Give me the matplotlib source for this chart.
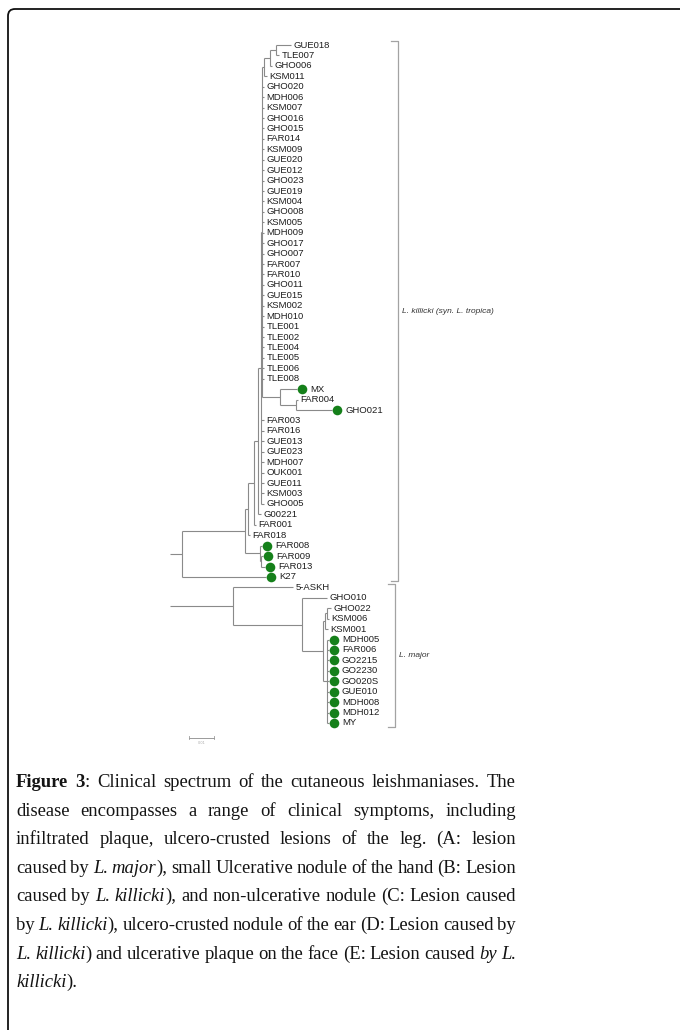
import matplotlib
matplotlib.use("Agg")
import matplotlib.pyplot as plt
from matplotlib.patches import FancyBboxPatch

# leaves hanging off the long L. killicki comb (tip length 0.0008)
comb_tips = ["GHO020", "MDH006", "KSM007", "GHO016", "GHO015", "FAR014", "KSM009",
             "GUE020", "GUE012", "GHO023", "GUE019", "KSM004", "GHO008", "KSM005",
             "MDH009", "GHO017", "GHO007", "FAR007", "FAR010", "GHO011", "GUE015",
             "KSM002", "MDH010", "TLE001", "TLE002", "TLE004", "TLE005", "TLE006",
             "TLE008"]
# second comb (tip length 0.0012)
comb2_tips = ["FAR003", "FAR016", "GUE013", "GUE023", "MDH007", "OUK001", "GUE011",
              "KSM003", "GHO005"]
# L. major polytomy (tip length 0.0008)
major_tips = ["MDH005", "FAR006", "GO2215", "GO2230", "GO020S", "GUE010", "MDH008",
              "MDH012", "MY"]
# samples marked with a green dot
marked = ["MX", "GHO021", "FAR008", "FAR009", "FAR013", "K27"] + major_tips

tree_nwk = (
    "(((((((((((GUE018:0.006,TLE007:0.0012):0.0024,GHO006:0.0008):0.0024,"
    "KSM011:0.0012):0.0008,{A},(MX:0.0068,(FAR004:0.0008,GHO021:0.0144):0.0064)"
    ":0.0072):0.0004,{B}):0.0012,G00221:0.0012):0.0016,FAR001:0.0008):0.0024,"
    "FAR018:0.0008):0.0012,(FAR008:0.0008,(FAR009:0.0008,FAR013:0.0016):0.0004)"
    ":0.006):0.0252,K27:0.0336):0.0048,"
    "(5-ASKH:0.024,(GHO010:0.01,(((GHO022:0.0016,KSM006:0.0008):0.0008,"
    "KSM001:0.0012):0.0008,({C}):0.0016):0.0084):0.0276):0.0252);"
).format(A=",".join(n + ":0.0008" for n in comb_tips),
         B=",".join(n + ":0.0012" for n in comb2_tips),
         C=",".join(n + ":0.0008" for n in major_tips))

groups = [("L. killicki (syn. L. tropica)", "GUE018", "K27", 0.0912),
          ("L. major", "5-ASKH", "MY", 0.0900)]

caption = [
    "*Figure 3*: Clinical spectrum of the cutaneous leishmaniases. The",
    "disease encompasses a range of clinical symptoms, including",
    "infiltrated plaque, ulcero-crusted lesions of the leg. (A: lesion",
    "caused by _L. major_), small Ulcerative nodule of the hand (B: Lesion",
    "caused by _L. killicki_), and non-ulcerative nodule (C: Lesion caused",
    "by _L. killicki_), ulcero-crusted nodule of the ear (D: Lesion caused by",
    "_L. killicki_) and ulcerative plaque on the face (E: Lesion caused _by L._",
    "_killicki_).",
]

PX = 0.0004    # substitutions per pixel
ROW = 10.43    # pixels per leaf row
W, H = 680, 1030


def parse(s, i=0):
    kids = []
    if s[i] == "(":
        i += 1
        while True:
            kid, i = parse(s, i)
            kids.append(kid)
            c = s[i]
            i += 1
            if c == ")":
                break
    j = i
    while s[j] not in ":,);":
        j += 1
    name = s[i:j]
    bl = 0.0
    if s[j] == ":":
        k = j + 1
        while s[k] not in ",);":
            k += 1
        bl = float(s[j + 1:k])
        j = k
    return {"name": name, "bl": bl, "kids": kids}, j


leaves = []


def layout(node, x0):
    node["x"] = x0 + node["bl"]
    if node["kids"]:
        for k in node["kids"]:
            layout(k, node["x"])
        node["y"] = (node["kids"][0]["y"] + node["kids"][-1]["y"]) / 2
    else:
        node["y"] = len(leaves)
        leaves.append(node)


root, _ = parse(tree_nwk)
layout(root, 0.0)

fig = plt.figure(figsize=(W / 100, H / 100), dpi=100)
ax = fig.add_axes([0, 0, 1, 1])
ax.set_xlim(-170 * PX, (W - 170) * PX)
ax.set_ylim((H - 45) / ROW, -45 / ROW)
ax.axis("off")

line_kw = dict(color="#8a8a8a", lw=0.8, solid_capstyle="butt")


def draw(node, px, is_root=False):
    if not is_root:
        ax.plot([px, node["x"]], [node["y"], node["y"]], **line_kw)
    kids = node["kids"]
    if kids:
        if not is_root:
            ax.plot([node["x"], node["x"]], [kids[0]["y"], kids[-1]["y"]], **line_kw)
        for k in kids:
            draw(k, node["x"])


draw(root, 0.0, is_root=True)

lab_font = ["Liberation Sans", "DejaVu Sans"]
for lf in leaves:
    if lf["name"] in marked:
        ax.scatter(lf["x"] + 5 * PX, lf["y"], s=48, color="#15801a", zorder=3, lw=0)
        tx = lf["x"] + 13 * PX
    else:
        tx = lf["x"] + 2.5 * PX
    ax.text(tx, lf["y"], lf["name"], fontsize=6.8, family=lab_font,
            color="#1e1e1e", va="center", ha="left")

pos = {lf["name"]: lf["y"] for lf in leaves}
for label, first, last, bx in groups:
    y0, y1 = pos[first] - 0.35, pos[last] + 0.4
    ax.plot([bx - 7 * PX, bx, bx, bx - 7 * PX], [y0, y0, y1, y1],
            color="#a3a3a3", lw=0.9)
    ax.text(bx + 4 * PX, (y0 + y1) / 2, label, fontsize=6, style="italic",
            family=lab_font, color="#333333", va="center", ha="left")

# scale bar
sb_y = pos["MY"] + 1.4
ax.plot([0.0076, 0.0176], [sb_y, sb_y], color="#9a9a9a", lw=0.7)
ax.plot([0.0076, 0.0076], [sb_y - 0.15, sb_y + 0.15], color="#9a9a9a", lw=0.6)
ax.plot([0.0176, 0.0176], [sb_y - 0.15, sb_y + 0.15], color="#9a9a9a", lw=0.6)
ax.text(0.0126, sb_y + 0.35, "0.01", fontsize=2.5, color="#aaaaaa",
        ha="center", va="top")

# outer frame with rounded corner
box = FancyBboxPatch((0.08, -0.3), 7.2, 10.3 - 0.09 + 0.3,
                     boxstyle="round,pad=0,rounding_size=0.07",
                     transform=fig.dpi_scale_trans, fill=False, lw=1.3,
                     ec="#111111")
fig.add_artist(box)

# justified caption
cap_font = ["Liberation Serif", "DejaVu Serif"]
renderer = fig.canvas.get_renderer()


def style_kw(st):
    return dict(family=cap_font, weight="bold" if st == "b" else "normal",
                style="italic" if st == "i" else "normal")


def split_words(line):
    words, cur, run, st = [], [], "", "n"
    for ch in line:
        if ch in "*_":
            if run:
                cur.append((run, st))
                run = ""
            new = "b" if ch == "*" else "i"
            st = "n" if st == new else new
        elif ch == " ":
            if run:
                cur.append((run, st))
                run = ""
            if cur:
                words.append(cur)
            cur = []
        else:
            run += ch
    if run:
        cur.append((run, st))
    if cur:
        words.append(cur)
    return words


def width(txt, st, size):
    t = fig.text(0, 0, txt, fontsize=size, **style_kw(st))
    w = t.get_window_extent(renderer).width
    t.remove()
    return w


cap_words = [split_words(l) for l in caption]
left, right = 16, 516
base = 10
space0 = width("a a", "n", base) - width("aa", "n", base)
natural = []
for words in cap_words:
    ws = sum(width(r, s, base) for w in words for r, s in w)
    natural.append(ws + 0.8 * space0 * (len(words) - 1))
size = base * (right - left - 1) / max(natural)

for li, words in enumerate(cap_words):
    widths = [[width(r, s, size) for r, s in w] for w in words]
    total = sum(sum(w) for w in widths)
    if li < len(cap_words) - 1:
        gap = (right - left - total) / (len(words) - 1)
    else:
        gap = space0 * size / base
    x = left
    yb = 787 + li * 28.6
    for w, ww in zip(words, widths):
        for (r, s), rw in zip(w, ww):
            fig.text(x / W, 1 - yb / H, r, fontsize=size, color="#141414",
                     va="baseline", ha="left", **style_kw(s))
            x += rw
        x += gap

fig.savefig("out.png", dpi=100)
